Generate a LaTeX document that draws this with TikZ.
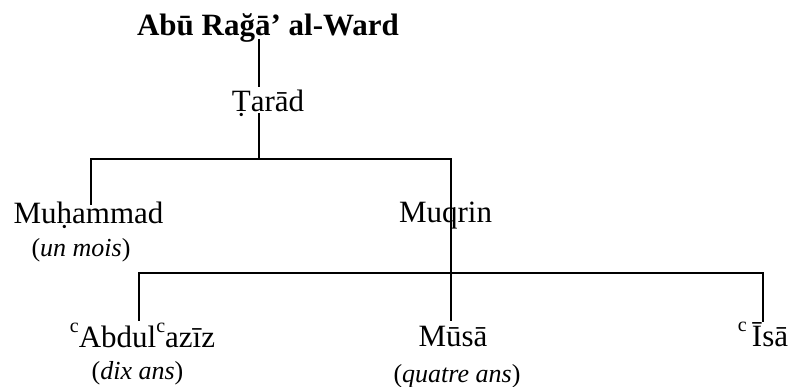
\documentclass[tikz,border=0pt]{standalone}
\usepackage{fontspec}
\setmainfont{Liberation Serif}
\newcommand{\ayn}{{\fontsize{20}{20}\selectfont\raisebox{15pt}{c}}}
\begin{document}
\begin{tikzpicture}[x=1pt,y=-1pt,
  nm/.style={anchor=base,inner sep=0pt,font=\fontsize{31}{36}\selectfont},
  ttl/.style={anchor=base,inner sep=0pt,font=\fontsize{31}{36}\selectfont\bfseries},
  age/.style={anchor=base,inner sep=0pt,font=\fontsize{26}{30}\selectfont},
  link/.style={draw=black,line width=1.8pt}]
\useasboundingbox (0,0) rectangle (790,387);
\node[ttl] (title) at (268,36) {Abū Rağā’ al-Ward};
\node[nm] (tarad) at (268,112) {Ṭarād};
\node[nm] (muh) at (88.5,224) {Muḥammad};
\node[age] (unmois) at (81,257) {(\textit{un mois})};
\node[nm] (muq) at (445.5,223) {Muqrin};
\node[nm] (abd) at (142.5,348) {\ayn Abdul\ayn azīz};
\node[age] (dix) at (137.5,380) {(\textit{dix ans})};
\node[nm] (musa) at (453,347) {Mūsā};
\node[age] (quatre) at (457,382) {(\textit{quatre ans})};
\node[nm] (isa) at (763,347) {\ayn\,Īsā};
\coordinate (j1) at (259,159);
\coordinate (j2) at (451,273);
\draw[link] ([shift={(-9,3)}]title.base) -- ([shift={(-9,-25)}]tarad.base);
\draw[link] ([shift={(-9,1)}]tarad.base) -- (j1);
\draw[link] ([shift={(2.5,-19)}]muh.base) |- (j1);
\draw[link] (j1) -| (j2) -- ([shift={(-2,-26)}]musa.base);
\draw[link] ([shift={(-3.5,-27)}]abd.base) |- (j2);
\draw[link] (j2) -| ([shift={(0,-25)}]isa.base);
\end{tikzpicture}
\end{document}
